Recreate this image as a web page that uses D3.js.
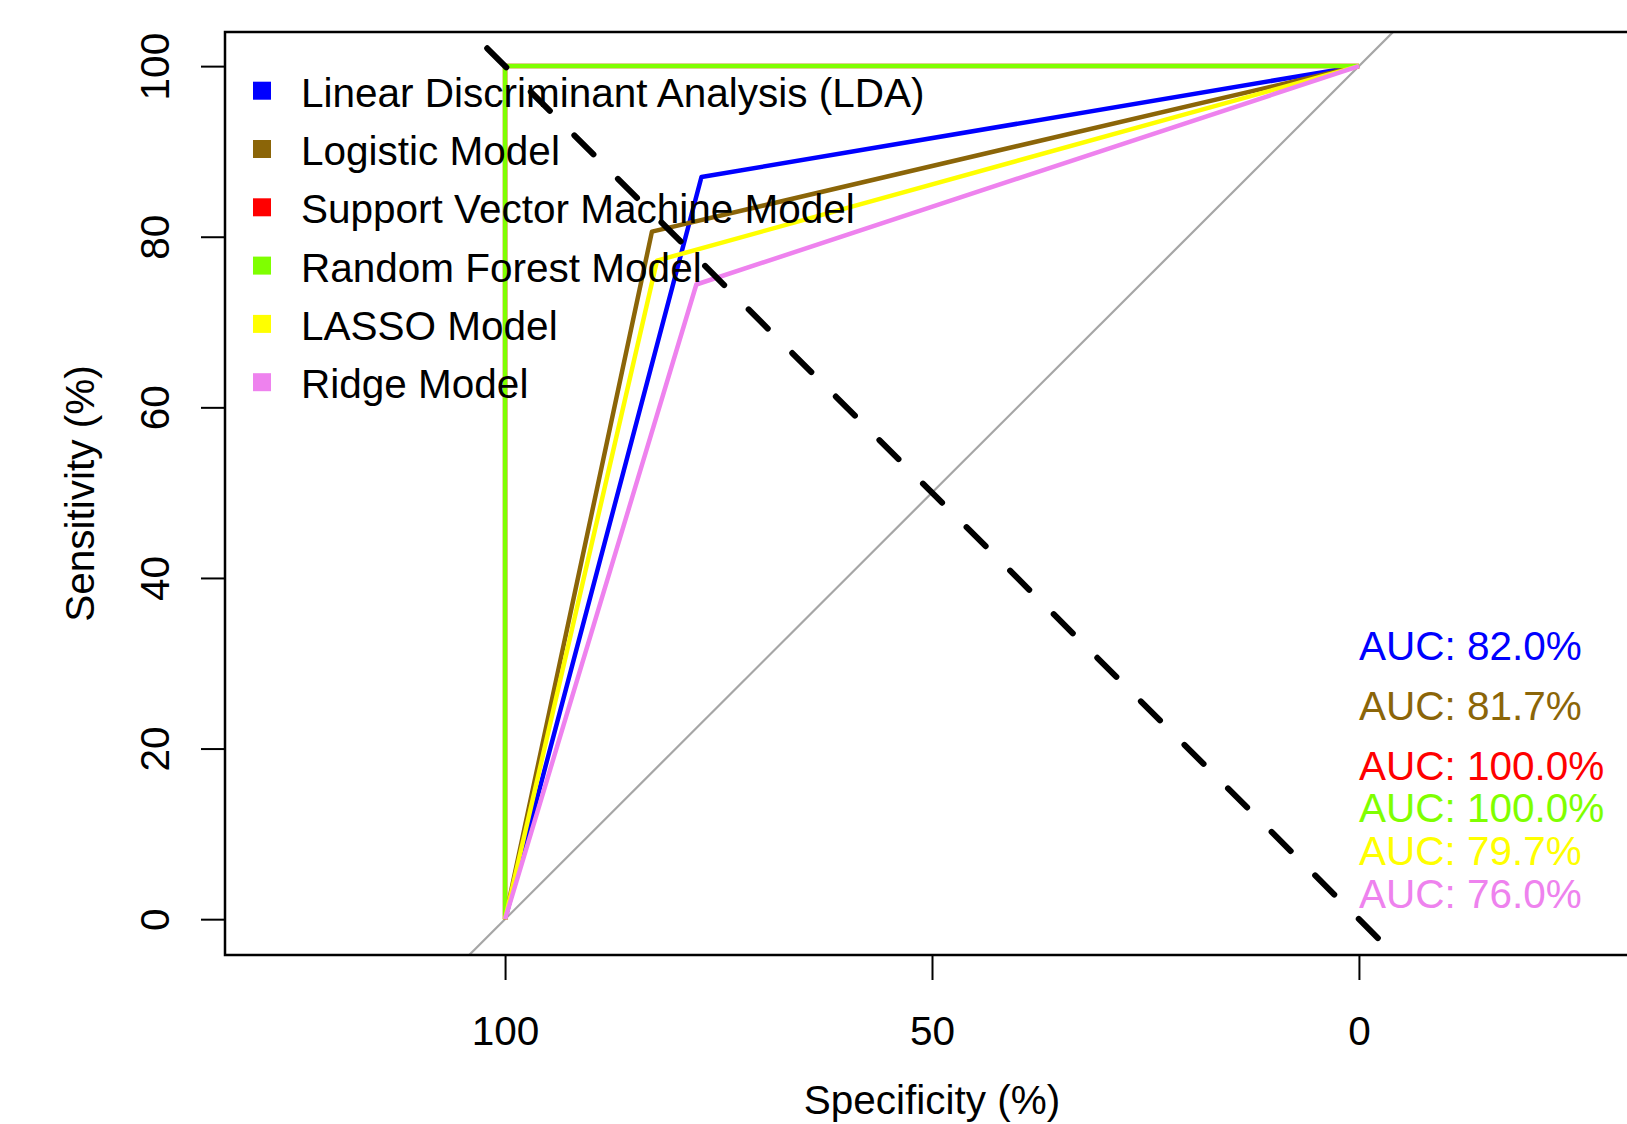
<!DOCTYPE html>
<html>
<head>
<meta charset="utf-8">
<script src="https://d3js.org/d3.v7.min.js"></script>
<style>
    html, body {
        margin: 0;
        padding: 0;
        background: white;
        overflow: hidden;
    }
    svg {
        display: block;
    }
    text {
        font-family: 'Liberation Sans', Arial, sans-serif;
        font-size: 40.5px;
        fill: black;
    }
</style>
</head>
<body>
<svg id="chart" width="1627" height="1124"></svg>
<script>
    // ROC curves: one threshold per model, so each curve has a single elbow
    var modelNames = ["Linear Discriminant Analysis (LDA)", "Logistic Model",
        "Support Vector Machine Model", "Random Forest Model", "LASSO Model", "Ridge Model"];
    var modelColors = ["#0000FF", "#8B6508", "#FF0000", "#7FFF00", "#FFFF00", "#EE82EE"];
    var elbowSpecificity = [77.0, 82.8, 100, 100, 82.2, 77.6];
    var elbowSensitivity = [87.0, 80.6, 100, 100, 77.2, 74.4];
    var aucValues = [82.0, 81.7, 100.0, 100.0, 79.7, 76.0];
    var aucLabelY = [32, 25, 18, 13, 8, 3];

    var xTicks = [100, 50, 0];
    var yTicks = [0, 20, 40, 60, 80, 100];

    var box = {left: 225, top: 32, right: 1639, bottom: 955};
    var fontSize = "40.5px";

    var svg = d3.select("#chart");

    // x is reversed (specificity 100 -> 0), same units per px as y
    var x = d3.scaleLinear().domain([132.8, -32.8]).range([box.left, box.right]);
    var y = d3.scaleLinear().domain([-4.2, 104]).range([box.bottom, box.top]);

    svg.append("defs").append("clipPath")
        .attr("id", "plotclip")
        .append("rect")
        .attr("x", box.left)
        .attr("y", box.top)
        .attr("width", box.right - box.left)
        .attr("height", box.bottom - box.top);

    var plot = svg.append("g").attr("clip-path", "url(#plotclip)");

    var line = d3.line()
        .x(function (d) { return x(d[0]); })
        .y(function (d) { return y(d[1]); });

    // chance diagonal
    plot.append("path")
        .attr("d", line([[110, -10], [-10, 110]]))
        .attr("fill", "none")
        .attr("stroke", "#A6A6A6")
        .attr("stroke-width", 2.2);

    // roc curves
    modelNames.forEach(function (name, i) {
        var pts = [[100, 0], [elbowSpecificity[i], elbowSensitivity[i]], [0, 100]];
        plot.append("path")
            .attr("d", line(pts))
            .attr("fill", "none")
            .attr("stroke", modelColors[i])
            .attr("stroke-width", 4.5)
            .attr("stroke-linejoin", "round");
    });

    // dashed reference line
    plot.append("path")
        .attr("d", line([[104, 104], [-4.2, -4.2]]))
        .attr("fill", "none")
        .attr("stroke", "black")
        .attr("stroke-width", 6)
        .attr("stroke-linecap", "round")
        .attr("stroke-dasharray", "27 34.6")
        .attr("stroke-dashoffset", 38.6);

    // box
    svg.append("rect")
        .attr("x", box.left)
        .attr("y", box.top)
        .attr("width", box.right - box.left)
        .attr("height", box.bottom - box.top)
        .attr("fill", "none")
        .attr("stroke", "black")
        .attr("stroke-width", 2.5);

    // x axis
    var xAxis = d3.axisBottom(x).tickValues(xTicks).tickSize(25).tickPadding(0).tickFormat(d3.format("d"));
    var gx = svg.append("g").attr("transform", "translate(0," + box.bottom + ")").call(xAxis);
    gx.select(".domain").remove();
    gx.selectAll(".tick line").attr("stroke", "black").attr("stroke-width", 2);
    gx.selectAll(".tick text")
        .attr("y", 90)
        .attr("dy", null)
        .style("font-size", fontSize)
        .style("font-family", "'Liberation Sans', Arial, sans-serif");

    // y axis, labels turned parallel to the axis
    var yAxis = d3.axisLeft(y).tickValues(yTicks).tickSize(24).tickFormat(d3.format("d"));
    var gy = svg.append("g").attr("transform", "translate(" + box.left + ",0)").call(yAxis);
    gy.select(".domain").remove();
    gy.selectAll(".tick line").attr("stroke", "black").attr("stroke-width", 2);
    gy.selectAll(".tick text")
        .attr("x", null)
        .attr("dy", null)
        .attr("text-anchor", "middle")
        .attr("transform", "translate(-56.5,0) rotate(-90)")
        .style("font-size", fontSize)
        .style("font-family", "'Liberation Sans', Arial, sans-serif");

    // axis titles
    svg.append("text")
        .attr("x", (box.left + box.right) / 2)
        .attr("y", 1114)
        .attr("text-anchor", "middle")
        .text("Specificity (%)");

    svg.append("text")
        .attr("transform", "translate(94," + ((box.top + box.bottom) / 2) + ") rotate(-90)")
        .attr("text-anchor", "middle")
        .text("Sensitivity (%)");

    // auc labels
    svg.append("g").selectAll("text")
        .data(aucValues)
        .enter().append("text")
        .attr("x", x(0))
        .attr("y", function (d, i) { return y(aucLabelY[i]) + 14; })
        .style("fill", function (d, i) { return modelColors[i]; })
        .text(function (d) { return "AUC: " + d.toFixed(1) + "%"; });

    // legend
    var legend = svg.append("g").selectAll("g")
        .data(modelNames)
        .enter().append("g")
        .attr("transform", function (d, i) { return "translate(262," + (90.7 + i * 58.3) + ")"; });

    legend.append("rect")
        .attr("x", -9)
        .attr("y", -9)
        .attr("width", 18)
        .attr("height", 18)
        .attr("fill", function (d, i) { return modelColors[i]; });

    legend.append("text")
        .attr("x", 39)
        .attr("y", 16)
        .text(function (d) { return d; });
</script>
</body>
</html>
